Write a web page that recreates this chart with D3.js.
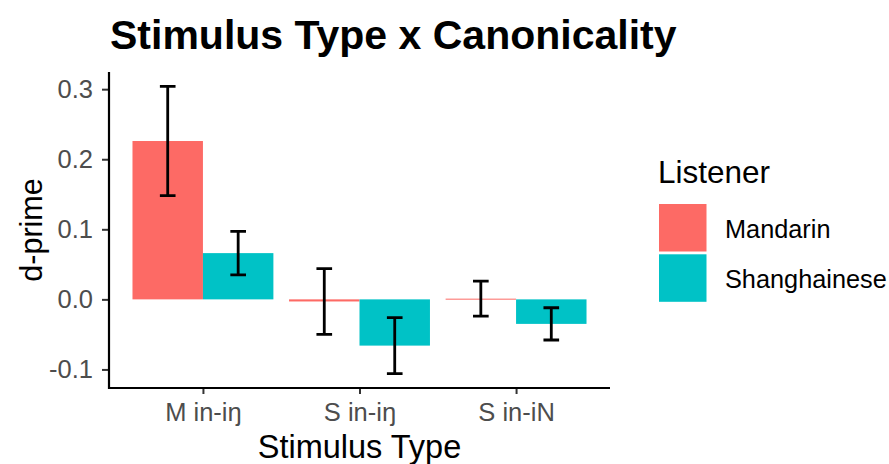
<!DOCTYPE html>
<html>
<head>
<meta charset="utf-8">
<script src="https://cdn.jsdelivr.net/npm/d3@7/dist/d3.min.js"></script>
<style>
  html, body { margin: 0; padding: 0; background: #fff; }
  text { font-family: "Liberation Sans", Arial, Helvetica, sans-serif; }
</style>
</head>
<body>
<svg id="chart" width="889" height="464"></svg>
<script>
// Stimulus categories and listener groups
const categories = ["M in-i\u014B", "S in-i\u014B", "S in-iN"];
const listeners = ["Mandarin", "Shanghainese"];
// Mean d-prime per stimulus type, one array per listener group
const mandarinMean = [0.226, -0.003, 0.001];
const shanghaineseMean = [0.066, -0.066, -0.035];
// Standard errors (error bars span mean ± se)
const mandarinSE = [0.078, 0.047, 0.025];
const shanghaineseSE = [0.031, 0.040, 0.023];
const yTicks = [-0.1, 0.0, 0.1, 0.2, 0.3];
const colors = ["#FD6A65", "#00C2C6"];

const rows = [];
categories.forEach((c, i) => {
  rows.push({ cat: c, grp: listeners[0], mean: mandarinMean[i], se: mandarinSE[i] });
  rows.push({ cat: c, grp: listeners[1], mean: shanghaineseMean[i], se: shanghaineseSE[i] });
});

const svg = d3.select("#chart");
const panel = { left: 109, right: 610, top: 72, bottom: 388 };

// y domain: data extent (incl. error bars) expanded by 5% each side
const lo = d3.min(rows, d => Math.min(0, d.mean - d.se));
const hi = d3.max(rows, d => Math.max(0, d.mean + d.se));
const pad = (hi - lo) * 0.05;
const y = d3.scaleLinear().domain([lo - pad, hi + pad]).range([panel.bottom, panel.top]);

// x: discrete categories with 0.6 unit expansion each side
const unit = (panel.right - panel.left) / (categories.length - 1 + 1.2);
const x = d3.scalePoint().domain(categories)
  .range([panel.left + 0.6 * unit, panel.right - 0.6 * unit]);
const dodge = d3.scaleBand().domain(listeners).range([-0.45 * unit, 0.45 * unit]);
const color = d3.scaleOrdinal().domain(listeners).range(colors);

// Bars
svg.append("g").selectAll("rect").data(rows).join("rect")
  .attr("x", d => x(d.cat) + dodge(d.grp))
  .attr("width", dodge.bandwidth())
  .attr("y", d => Math.min(y(d.mean), y(0)))
  .attr("height", d => Math.max(1, Math.abs(y(d.mean) - y(0))))
  .attr("fill", d => color(d.grp));

// Error bars
const capHalf = 0.05 * unit;
const eb = svg.append("g").attr("stroke", "#000").attr("stroke-width", 2.8).attr("fill", "none");
rows.forEach(d => {
  const mx = x(d.cat) + dodge(d.grp) + dodge.bandwidth() / 2;
  const y1 = y(d.mean + d.se), y2 = y(d.mean - d.se);
  eb.append("path").attr("d",
    `M${mx - capHalf},${y1}H${mx + capHalf}M${mx},${y1}V${y2}M${mx - capHalf},${y2}H${mx + capHalf}`);
});

// Axes
const yAxis = d3.axisLeft(y).tickValues(yTicks).tickSize(7).tickPadding(9);
const gy = svg.append("g").attr("transform", `translate(${panel.left},0)`).call(yAxis);
gy.select(".domain").remove();
gy.selectAll(".tick line").attr("stroke", "#333").attr("stroke-width", 2);
gy.selectAll(".tick text").attr("fill", "#4D4D4D").style("font-size", "25.5px")
  .text(d => d3.format(".1f")(d).replace("\u2212", "-"));

const xAxis = d3.axisBottom(x).tickSize(6).tickPadding(6);
const gx = svg.append("g").attr("transform", `translate(0,${panel.bottom})`).call(xAxis);
gx.select(".domain").remove();
gx.selectAll(".tick line").attr("stroke", "#333").attr("stroke-width", 2);
gx.selectAll(".tick text").attr("fill", "#4D4D4D").style("font-size", "25.5px")
  .attr("y", 33).attr("dy", null);

// Axis lines (L shape)
svg.append("path")
  .attr("d", `M${panel.left},${panel.top}V${panel.bottom}H${panel.right}`)
  .attr("fill", "none").attr("stroke", "#000").attr("stroke-width", 2.2);

// Titles
svg.append("text").attr("x", 110).attr("y", 49)
  .style("font-size", "41px").style("font-weight", "bold").attr("fill", "#000")
  .text("Stimulus Type x Canonicality");
svg.append("text").attr("x", (panel.left + panel.right) / 2).attr("y", 458)
  .attr("text-anchor", "middle").style("font-size", "32.5px").attr("fill", "#000")
  .text("Stimulus Type");
svg.append("text").attr("transform", `translate(42,${(panel.top + panel.bottom) / 2}) rotate(-90)`)
  .attr("text-anchor", "middle").style("font-size", "30.5px").attr("fill", "#000")
  .text("d-prime");

// Legend
const lg = svg.append("g").attr("transform", "translate(659,0)");
lg.append("text").attr("x", -1).attr("y", 183).style("font-size", "31.5px").attr("fill", "#000")
  .text("Listener");
listeners.forEach((l, i) => {
  const top = 204 + i * 50.3;
  lg.append("rect").attr("x", 0).attr("y", top).attr("width", 47.5).attr("height", 47.5)
    .attr("fill", color(l));
  lg.append("text").attr("x", 66).attr("y", top + 33.5).style("font-size", "25.3px").attr("fill", "#000")
    .text(l);
});
</script>
</body>
</html>
